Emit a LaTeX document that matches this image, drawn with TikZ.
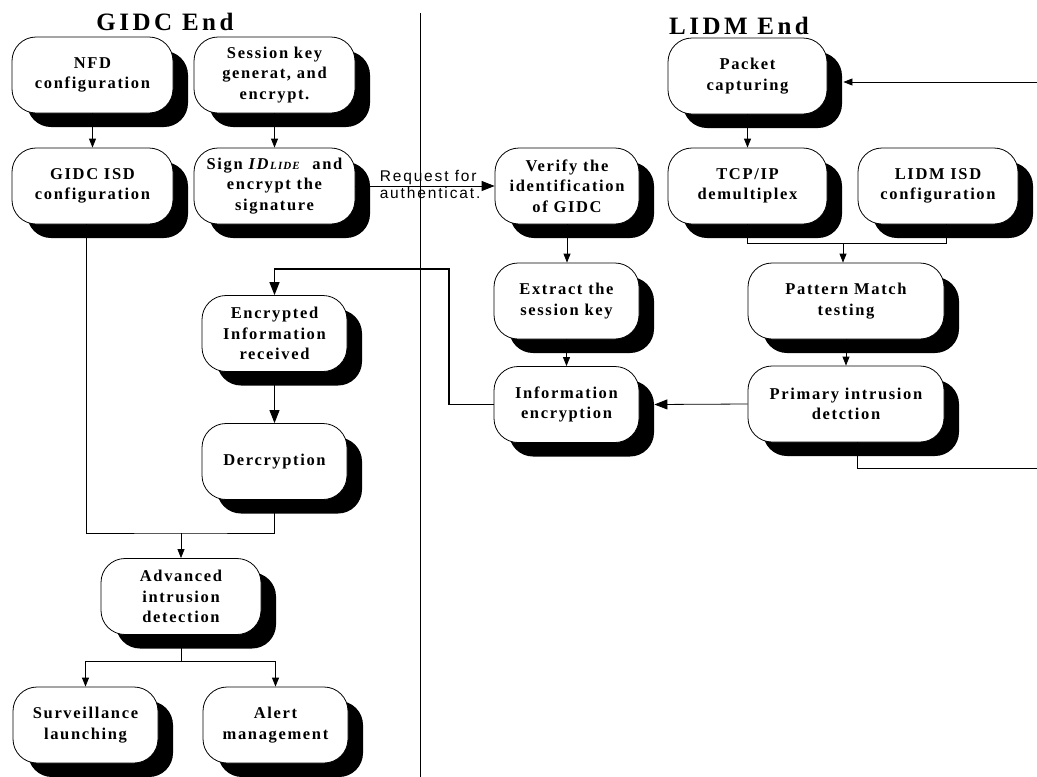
\documentclass[tikz,border=0pt]{standalone}
\usepackage{fontspec}
\setmainfont{Liberation Serif}
\newfontfamily\reqfont{Liberation Sans}
\usetikzlibrary{shadows,arrows.meta}
\tikzset{
  fbox/.style={draw, line width=0.8pt, rounded corners=24pt, fill=white, inner sep=0pt,
    minimum height=76pt, align=center,
    font=\bfseries\fontsize{16.5}{20.5}\selectfont\addfontfeatures{LetterSpace=10},
    general shadow={fill=black, shadow xshift=15pt, shadow yshift=-14pt}},
  conn/.style={line width=0.8pt},
  arr/.style={conn, -{Triangle[length=9pt,width=7pt]}},
  bigarr/.style={conn, -{Triangle[length=13pt,width=10pt]}},
  ttl/.style={font=\bfseries\fontsize{25}{25}\selectfont\addfontfeatures{LetterSpace=14}},
  reqlbl/.style={inner sep=1pt, font=\reqfont\fontsize{15.5}{15.5}\selectfont\addfontfeatures{LetterSpace=12}},
}
\begin{document}
\begin{tikzpicture}[x=1pt,y=-1pt]
\useasboundingbox (0,0) rectangle (1037,777);
% titles
\node[ttl] (t1) at (165,22) {GIDC End};
\node[ttl] (t2) at (739,26) {LIDM End};
% divider
\draw[conn] (420,13) -- (420,777);
% GIDC side
\node[fbox, minimum width=161pt] (nfd) at (92.5,75) {NFD\\configuration};
\node[fbox, minimum width=161pt] (sess) at (274.5,75) {Session key\\generat, and\\encrypt.};
\node[fbox, minimum width=161pt] (gisd) at (92.5,186) {GIDC ISD\\configuration};
\node[fbox, minimum width=161pt] (sign) at (274.5,186) {Sign \textit{ID}{\fontsize{11}{11}\selectfont\textit{LIDE}}\ \ and\\encrypt the\\signature};
\node[fbox, minimum width=145pt] (encr) at (274.5,333.5) {Encrypted\\Information\\received};
\node[fbox, minimum width=145pt] (decr) at (274.5,461.5) {Dercryption};
\node[fbox, minimum width=160pt] (adv) at (181,596.5) {Advanced\\intrusion\\detection};
\node[fbox, minimum width=145pt] (surv) at (85.5,725) {Surveillance\\launching};
\node[fbox, minimum width=145pt] (alert) at (275.5,725) {Alert\\management};
% LIDM side
\node[fbox, minimum width=144pt] (verify) at (567,186) {Verify the\\identification\\of GIDC};
\node[fbox, minimum width=145pt] (extract) at (566.5,301) {Extract the\\session key};
\node[fbox, minimum width=145pt] (infoenc) at (566.5,404.5) {Information\\encryption};
\node[fbox, minimum width=159pt] (packet) at (747.5,76) {Packet\\capturing};
\node[fbox, minimum width=159pt] (tcp) at (747.5,186) {TCP/IP\\demultiplex};
\node[fbox, minimum width=160pt] (lisd) at (938,186) {LIDM ISD\\configuration};
\node[fbox, minimum width=196pt] (pattern) at (846,301) {Pattern Match\\testing};
\node[fbox, minimum width=196pt] (primary) at (846,404) {Primary intrusion\\detction};
% connectors GIDC
\draw[arr] (nfd.south) -- (gisd.north);
\draw[arr] (sess.south) -- (sess.south |- sign.north);
\draw[bigarr] (sign.east) -- (verify.west)
  node[pos=0.165, anchor=south west, reqlbl] (rq1) {Request for}
  node[pos=0.165, anchor=north west, reqlbl] (rq2) {authenticat.};
\draw[bigarr] (encr.south) -- (decr.north);
\coordinate (j1) at (181,533);
\draw[conn] ([xshift=-6pt]gisd.south) |- (j1) -| (decr.south);
\draw[arr] (j1) -- (adv.north);
\coordinate (j2) at (181,661);
\draw[conn] (adv.south) -- (j2);
\draw[arr] (j2) -| (surv.north);
\draw[arr] (j2) -| (alert.north);
% connectors LIDM
\draw[arr] (verify.south) -- (verify.south |- extract.north);
\draw[arr] (extract.south) -- (infoenc.north);
\draw[arr] (packet.south) -- (tcp.north);
\coordinate (brL) at (747.5,243);
\coordinate (brR) at (946,243);
\draw[conn] (tcp.south) -- (brL) -- (brR) -- (brR |- lisd.south);
\draw[arr] ([xshift=-3pt]pattern.north |- brL) -- ([xshift=-3pt]pattern.north);
\draw[arr] (pattern.south) -- (primary.north);
\draw[bigarr] (primary.west) -- ([xshift=15pt]infoenc.east);
\coordinate (fb1) at (449,269);
\draw[bigarr, line width=1.2pt] (infoenc.west) -| (fb1) -| (encr.north);
\coordinate (rt1) at (1045,468);
\draw[arr] ([xshift=11pt]primary.south) |- (rt1) |- ([xshift=16pt,yshift=-6pt]packet.east);
\end{tikzpicture}
\end{document}
